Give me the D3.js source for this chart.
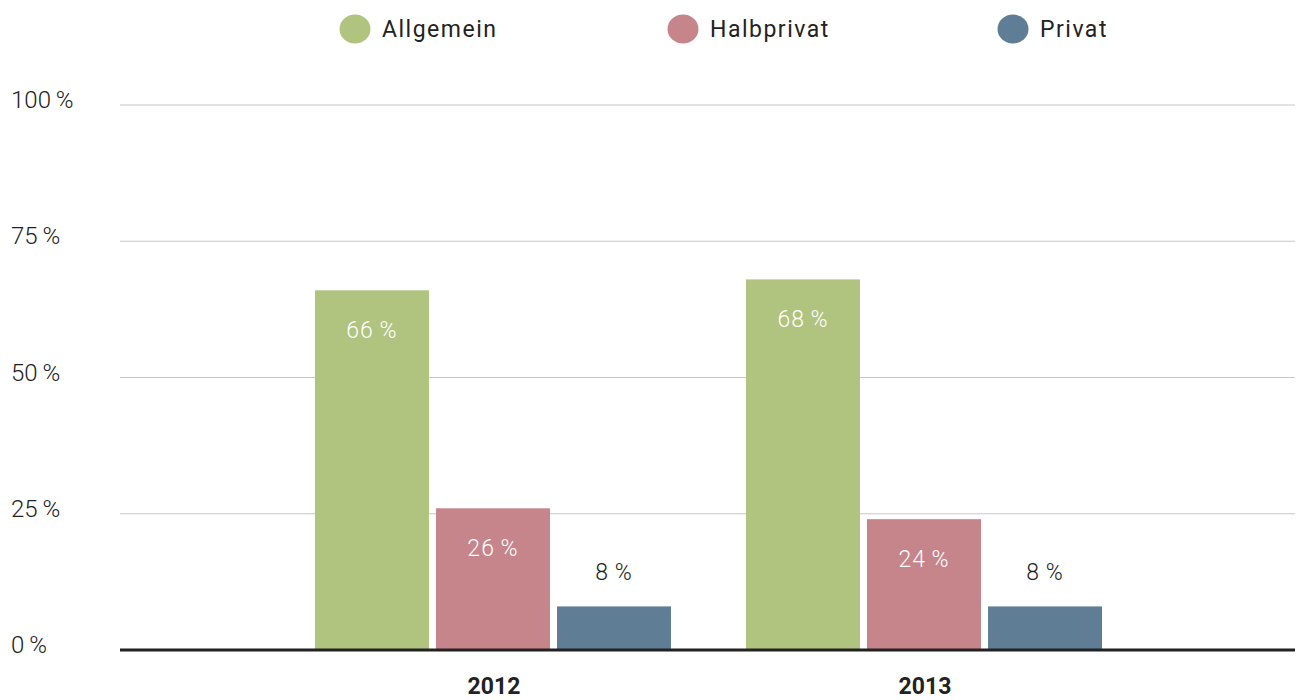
<!DOCTYPE html>
<html>
<head>
<meta charset="utf-8">
<script src="https://cdn.jsdelivr.net/npm/d3@7"></script>
<style>
  body { margin: 0; background: #fff; }
  text { font-family: Roboto, "DejaVu Sans", sans-serif; }
</style>
</head>
<body>
<svg id="chart"></svg>
<script>
var years = ["2012", "2013"];
var classes = ["Allgemein", "Halbprivat", "Privat"];
var allgemein = [66, 68];
var halbprivat = [26, 24];
var privat = [8, 8];
var yTicks = [0, 25, 50, 75, 100];
var colors = ["#b0c37f", "#c6848b", "#5f7e96"];

var width = 1303, height = 700;
var svg = d3.select("#chart").attr("width", width).attr("height", height);

var rows = years.map(function (y, i) {
    return { year: y, values: [allgemein[i], halbprivat[i], privat[i]] };
});

var x0 = d3.scaleBand().domain(years).range([121, 1296])
    .paddingInner(0.174).paddingOuter(0.45);
var x1 = d3.scaleBand().domain(classes).range([0, x0.bandwidth()])
    .paddingInner(0.058).paddingOuter(0);
var y = d3.scaleLinear().domain([0, 100]).range([650, 105]);
var color = d3.scaleOrdinal().domain(classes).range(colors);

// grid lines
svg.append("g").selectAll("line")
    .data(yTicks.filter(function (d) { return d > 0; }))
    .enter().append("line")
    .attr("x1", 120).attr("x2", 1295)
    .attr("y1", function (d) { return y(d); })
    .attr("y2", function (d) { return y(d); })
    .attr("stroke", "#c8c8c8").attr("stroke-width", 1);

// y labels
svg.append("g").selectAll("text")
    .data(yTicks)
    .enter().append("text")
    .attr("x", 11)
    .attr("y", function (d) { return y(d) + 3; })
    .attr("font-size", 24)
    .attr("font-weight", 300)
    .attr("fill", "#222")
    .text(function (d) { return d + "\u2009%"; });

// bars
var groups = svg.append("g").selectAll("g")
    .data(rows).enter().append("g")
    .attr("transform", function (d) { return "translate(" + x0(d.year) + ",0)"; });

var cells = groups.selectAll("g")
    .data(function (d) { return d.values.map(function (v, i) { return { key: classes[i], value: v }; }); })
    .enter().append("g");

cells.append("rect")
    .attr("x", function (d) { return x1(d.key); })
    .attr("y", function (d) { return y(d.value); })
    .attr("width", x1.bandwidth())
    .attr("height", function (d) { return y(0) - y(d.value); })
    .attr("fill", function (d) { return color(d.key); });

cells.append("text")
    .attr("x", function (d) { return x1(d.key) + x1.bandwidth() / 2; })
    .attr("y", function (d) { return d.value > 15 ? y(d.value) + 48 : y(d.value) - 26; })
    .attr("text-anchor", "middle")
    .attr("font-size", 23)
    .attr("font-weight", 300)
    .attr("letter-spacing", 1)
    .attr("fill", function (d) { return d.value > 15 ? "#fff" : "#222"; })
    .text(function (d) { return d.value + "\u2009%"; });

// baseline
svg.append("line")
    .attr("x1", 120).attr("x2", 1295)
    .attr("y1", y(0)).attr("y2", y(0))
    .attr("stroke", "#222").attr("stroke-width", 3);

// x labels
svg.append("g").selectAll("text")
    .data(years).enter().append("text")
    .attr("x", function (d) { return x0(d) + x0.bandwidth() / 2 + 1; })
    .attr("y", 694)
    .attr("text-anchor", "middle")
    .attr("font-size", 23)
    .attr("font-weight", 700)
    .attr("fill", "#222")
    .text(function (d) { return d; });

// legend
var legendX = [355, 683, 1013];
var legend = svg.append("g").selectAll("g")
    .data(classes).enter().append("g")
    .attr("transform", function (d, i) { return "translate(" + legendX[i] + ",29)"; });
legend.append("ellipse")
    .attr("rx", 15.5).attr("ry", 14.5)
    .attr("fill", function (d) { return color(d); });
legend.append("text")
    .attr("x", 27).attr("y", 8)
    .attr("font-size", 23)
    .attr("font-weight", 400)
    .attr("letter-spacing", 1.5)
    .attr("fill", "#222")
    .text(function (d) { return d; });
</script>
</body>
</html>
